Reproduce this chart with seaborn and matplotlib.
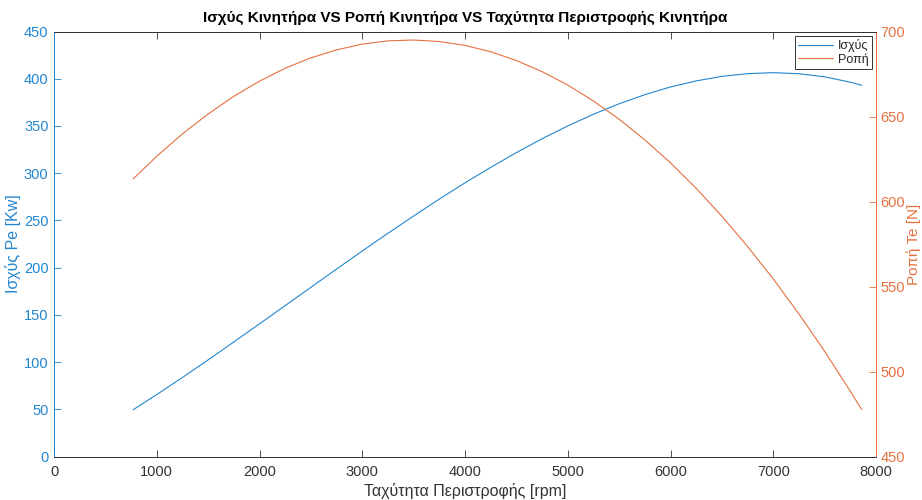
import matplotlib
matplotlib.use("Agg")
import matplotlib.pyplot as plt
import seaborn as sns
import pandas as pd

# Engine speed [rpm]
rpm = [770, 1000, 1250, 1500, 1750, 2000, 2250, 2500, 2750, 3000, 3250, 3500,
       3750, 4000, 4250, 4500, 4750, 5000, 5250, 5500, 5750, 6000, 6250, 6500,
       6750, 7000, 7250, 7500, 7750, 7860]

# Engine power Pe [kW]
power = [49.5, 65.6, 83.7, 102.3, 121.3, 140.5, 159.8, 179.2, 198.5, 217.6,
         236.4, 254.7, 272.6, 289.8, 306.2, 321.8, 336.5, 350.0, 362.4, 373.5,
         383.1, 391.3, 397.7, 402.5, 405.4, 406.4, 405.3, 402.0, 396.3, 393.1]

# Engine torque Te [N]
torque = [613.3, 626.6, 639.8, 651.5, 661.9, 670.8, 678.4, 684.5, 689.2, 692.6,
          694.5, 695.0, 694.1, 691.8, 688.1, 682.9, 676.4, 668.5, 659.1, 648.4,
          636.2, 622.7, 607.7, 591.3, 573.5, 554.4, 533.8, 511.8, 488.3, 477.6]

x_ticks = [0, 1000, 2000, 3000, 4000, 5000, 6000, 7000, 8000]
left_ticks = [0, 50, 100, 150, 200, 250, 300, 350, 400, 450]
right_ticks = [450, 500, 550, 600, 650, 700]

title = "Ισχύς Κινητήρα VS Ροπή Κινητήρα VS Ταχύτητα Περιστροφής Κινητήρα"
xlabel = "Ταχύτητα Περιστροφής [rpm]"
ylabel_left = "Ισχύς Pe [Kw]"
ylabel_right = "Ροπή Te [N]"
legend_labels = ["Ισχύς", "Ροπή"]

BLUE = "#2386D0"
ORANGE = "#E4703F"
DARK = "#333333"

sns.set_style("white")
plt.rcParams["font.family"] = ["Liberation Sans", "DejaVu Sans"]

df = pd.DataFrame({"rpm": rpm, "power": power, "torque": torque})

fig = plt.figure(figsize=(9.22, 5.0), dpi=100)
ax = fig.add_axes([0.0586, 0.087, 0.8916, 0.85])
ax2 = ax.twinx()

sns.lineplot(data=df, x="rpm", y="power", ax=ax, color=BLUE, lw=0.8,
             label=legend_labels[0], legend=False)
sns.lineplot(data=df, x="rpm", y="torque", ax=ax2, color=ORANGE, lw=0.8,
             label=legend_labels[1], legend=False)

ax.set_xlim(0, 8000)
ax.set_ylim(0, 450)
ax2.set_ylim(450, 700)
ax.set_xticks(x_ticks)
ax.set_yticks(left_ticks)
ax2.set_yticks(right_ticks)

ax.tick_params(axis="x", direction="in", length=5, width=0.6, color=DARK,
               labelcolor=DARK, labelsize=10.5, top=True, bottom=True, pad=6)
ax.tick_params(axis="y", direction="in", length=5, width=0.6, colors=BLUE,
               labelsize=10.5, pad=4)
ax2.tick_params(axis="y", direction="in", length=5, width=0.6, colors=ORANGE,
                labelsize=10.5, pad=3)

for a in (ax, ax2):
    for s in a.spines.values():
        s.set_linewidth(0.7)
    a.spines["top"].set_color(DARK)
    a.spines["bottom"].set_color(DARK)
    a.spines["left"].set_color(BLUE)
    a.spines["right"].set_color(ORANGE)

ax.set_xlabel(xlabel, fontsize=11.5, color=DARK, labelpad=3)
ax.set_ylabel(ylabel_left, fontsize=11.5, color=BLUE, labelpad=2)
ax2.set_ylabel(ylabel_right, fontsize=11, color=ORANGE, labelpad=1)
ax.set_title(title, fontsize=11, fontweight="bold", color="black", pad=7)

h1, l1 = ax.get_legend_handles_labels()
h2, l2 = ax2.get_legend_handles_labels()
leg = ax2.legend(h1 + h2, l1 + l2, loc="upper right", fontsize=9,
                 frameon=True, fancybox=False, framealpha=1, edgecolor=DARK,
                 borderaxespad=0.35, handlelength=2.8, borderpad=0.25,
                 labelspacing=0.1, handletextpad=0.4)
leg.get_frame().set_linewidth(0.7)

fig.savefig("out.png", dpi=100)
